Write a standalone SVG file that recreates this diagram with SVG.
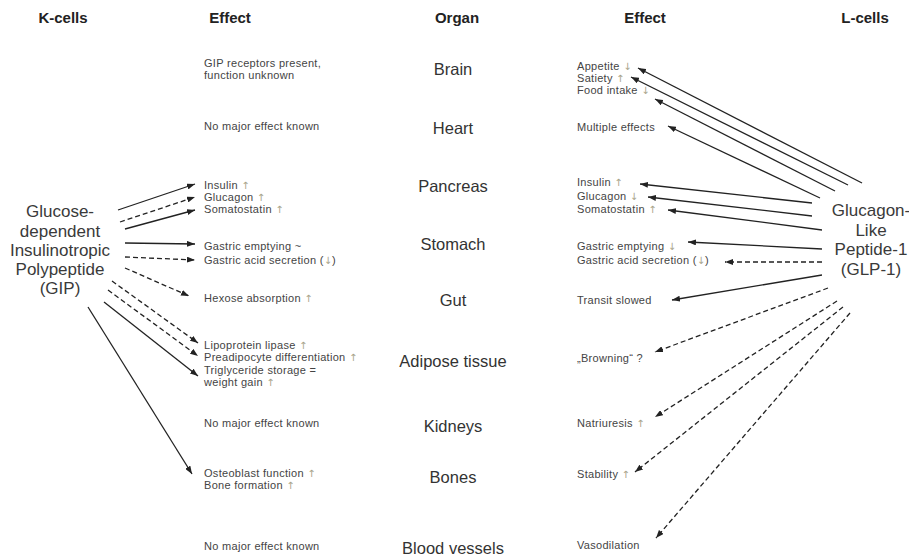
<svg xmlns="http://www.w3.org/2000/svg" width="909" height="558" viewBox="0 0 909 558">
<style>
text{font-family:"Liberation Sans",Arial,sans-serif;fill:#333}
.hd{font-size:15px;font-weight:bold;fill:#222;text-anchor:middle}
.org{font-size:16.5px;text-anchor:middle;fill:#333}
.big{font-size:17px;text-anchor:middle;fill:#3a3a3a}
.ef{font-size:11px;letter-spacing:0.3px;fill:#444}
.ar{fill:#a8a48a;font-family:"DejaVu Sans",sans-serif;font-size:10px;letter-spacing:0}
.c{stroke:#222;stroke-width:1.3;fill:none}
.d{stroke-dasharray:5,3}
</style>
<defs>
<marker id="ah" markerWidth="8" markerHeight="6" refX="8" refY="3" orient="auto" markerUnits="userSpaceOnUse">
<path d="M0,0 L8,3 L0,6 z" fill="#222"/>
</marker>
</defs>
<rect width="909" height="558" fill="#fff"/>

<g id="headers">
<text class="hd" x="63" y="23">K-cells</text>
<text class="hd" x="230" y="23">Effect</text>
<text class="hd" x="457" y="23">Organ</text>
<text class="hd" x="645" y="23">Effect</text>
<text class="hd" x="865" y="23">L-cells</text>
</g>

<g id="gip">
<text class="big" x="60" y="217">Glucose-</text>
<text class="big" x="60" y="237">dependent</text>
<text class="big" x="60" y="256">Insulinotropic</text>
<text class="big" x="60" y="275">Polypeptide</text>
<text class="big" x="60" y="294">(GIP)</text>
</g>

<g id="glp1">
<text class="big" x="871" y="216">Glucagon-</text>
<text class="big" x="871" y="236">Like</text>
<text class="big" x="871" y="255">Peptide-1</text>
<text class="big" x="871" y="275">(GLP-1)</text>
</g>

<g id="organs">
<g id="organ-brain"><text class="org" x="453" y="75">Brain</text></g>
<g id="organ-heart"><text class="org" x="453" y="134">Heart</text></g>
<g id="organ-pancreas"><text class="org" x="453" y="192">Pancreas</text></g>
<g id="organ-stomach"><text class="org" x="453" y="250">Stomach</text></g>
<g id="organ-gut"><text class="org" x="453" y="306">Gut</text></g>
<g id="organ-adipose"><text class="org" x="453" y="367">Adipose tissue</text></g>
<g id="organ-kidneys"><text class="org" x="453" y="432">Kidneys</text></g>
<g id="organ-bones"><text class="org" x="453" y="483">Bones</text></g>
<g id="organ-vessels"><text class="org" x="453" y="554">Blood vessels</text></g>
</g>

<g id="gip-effects">
<g id="k-brain"><text class="ef" x="204" y="67">GIP receptors present,</text><text class="ef" x="204" y="79">function unknown</text></g>
<g id="k-heart"><text class="ef" x="204" y="130">No major effect known</text></g>
<g id="k-pancreas">
<text class="ef" x="204" y="189">Insulin <tspan class="ar">↑</tspan></text>
<text class="ef" x="204" y="201">Glucagon <tspan class="ar">↑</tspan></text>
<text class="ef" x="204" y="213">Somatostatin <tspan class="ar">↑</tspan></text>
</g>
<g id="k-stomach">
<text class="ef" x="204" y="250">Gastric emptying ~</text>
<text class="ef" x="204" y="264">Gastric acid secretion (<tspan class="ar">↓</tspan>)</text>
</g>
<g id="k-gut"><text class="ef" x="204" y="302">Hexose absorption <tspan class="ar">↑</tspan></text></g>
<g id="k-adipose">
<text class="ef" x="204" y="349">Lipoprotein lipase <tspan class="ar">↑</tspan></text>
<text class="ef" x="204" y="361">Preadipocyte differentiation <tspan class="ar">↑</tspan></text>
<text class="ef" x="204" y="374">Triglyceride storage =</text>
<text class="ef" x="204" y="386">weight gain <tspan class="ar">↑</tspan></text>
</g>
<g id="k-kidneys"><text class="ef" x="204" y="427">No major effect known</text></g>
<g id="k-bones">
<text class="ef" x="204" y="477">Osteoblast function <tspan class="ar">↑</tspan></text>
<text class="ef" x="204" y="489">Bone formation <tspan class="ar">↑</tspan></text>
</g>
<g id="k-vessels"><text class="ef" x="204" y="550">No major effect known</text></g>
</g>

<g id="glp-effects">
<g id="l-brain">
<text class="ef" x="577" y="70">Appetite <tspan class="ar">↓</tspan></text>
<text class="ef" x="577" y="82">Satiety <tspan class="ar">↑</tspan></text>
<text class="ef" x="577" y="94">Food intake <tspan class="ar">↓</tspan></text>
</g>
<g id="l-heart"><text class="ef" x="577" y="131">Multiple effects</text></g>
<g id="l-pancreas">
<text class="ef" x="577" y="186">Insulin <tspan class="ar">↑</tspan></text>
<text class="ef" x="577" y="200">Glucagon <tspan class="ar">↓</tspan></text>
<text class="ef" x="577" y="213">Somatostatin <tspan class="ar">↑</tspan></text>
</g>
<g id="l-stomach">
<text class="ef" x="577" y="250">Gastric emptying <tspan class="ar">↓</tspan></text>
<text class="ef" x="577" y="264">Gastric acid secretion (<tspan class="ar">↓</tspan>)</text>
</g>
<g id="l-gut"><text class="ef" x="577" y="304">Transit slowed</text></g>
<g id="l-adipose"><text class="ef" x="577" y="362">„Browning“ ?</text></g>
<g id="l-kidneys"><text class="ef" x="577" y="427">Natriuresis <tspan class="ar">↑</tspan></text></g>
<g id="l-bones"><text class="ef" x="577" y="478">Stability <tspan class="ar">↑</tspan></text></g>
<g id="l-vessels"><text class="ef" x="577" y="549">Vasodilation</text></g>
</g>

<g id="connectors">
<line class="c" x1="118" y1="210" x2="195" y2="184" marker-end="url(#ah)"/>
<line class="c d" x1="120" y1="222" x2="195" y2="197" marker-end="url(#ah)"/>
<line class="c" x1="125" y1="229" x2="195" y2="210" marker-end="url(#ah)"/>
<line class="c" x1="125" y1="243" x2="195" y2="244" marker-end="url(#ah)"/>
<line class="c d" x1="125" y1="257" x2="195" y2="260" marker-end="url(#ah)"/>
<line class="c d" x1="125" y1="268" x2="189" y2="296" marker-end="url(#ah)"/>
<line class="c d" x1="112" y1="281" x2="198" y2="343" marker-end="url(#ah)"/>
<line class="c d" x1="108" y1="290" x2="198" y2="356" marker-end="url(#ah)"/>
<line class="c" x1="104" y1="302" x2="198" y2="376" marker-end="url(#ah)"/>
<line class="c" x1="88" y1="307" x2="192" y2="474" marker-end="url(#ah)"/>

<line class="c" x1="862" y1="183" x2="638" y2="68" marker-end="url(#ah)"/>
<line class="c" x1="848" y1="185" x2="631" y2="77" marker-end="url(#ah)"/>
<line class="c" x1="835" y1="191" x2="655" y2="99" marker-end="url(#ah)"/>
<line class="c" x1="820" y1="198" x2="668" y2="126" marker-end="url(#ah)"/>
<line class="c" x1="812" y1="203" x2="640" y2="184" marker-end="url(#ah)"/>
<line class="c" x1="812" y1="216" x2="648" y2="197" marker-end="url(#ah)"/>
<line class="c" x1="822" y1="230" x2="668" y2="210" marker-end="url(#ah)"/>
<line class="c" x1="822" y1="249" x2="688" y2="242" marker-end="url(#ah)"/>
<line class="c d" x1="822" y1="262" x2="725" y2="262" marker-end="url(#ah)"/>
<line class="c" x1="822" y1="275" x2="672" y2="300" marker-end="url(#ah)"/>
<line class="c d" x1="828" y1="288" x2="655" y2="352" marker-end="url(#ah)"/>
<line class="c d" x1="837" y1="301" x2="655" y2="417" marker-end="url(#ah)"/>
<line class="c d" x1="843" y1="307" x2="635" y2="472" marker-end="url(#ah)"/>
<line class="c d" x1="850" y1="313" x2="656" y2="538" marker-end="url(#ah)"/>
</g>
</svg>
